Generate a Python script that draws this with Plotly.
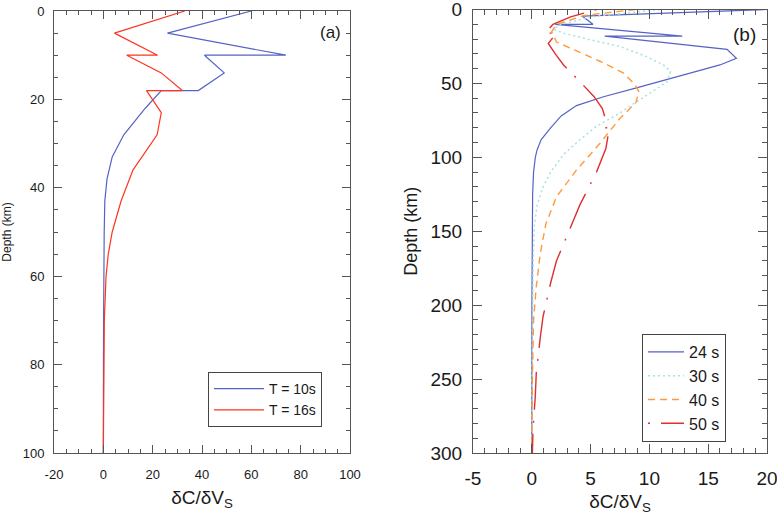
import plotly.graph_objects as go

# ---------------- Panel (a) data ----------------
depth_a_10 = [0, 5, 10, 10, 14, 18, 18, 22, 28, 33, 38, 43, 50, 55, 60, 70, 80, 90, 100]
dcdv_a_10 = [60, 26, 74, 41, 49, 38.5, 23.5, 17, 8.3, 3.6, 1.5, 0.6, 0.35, 0.25, 0.15, 0.1, 0.05, 0.02, 0]

depth_a_16 = [0, 5, 10, 10, 14, 18, 18, 23, 28, 36, 43, 50, 55, 60, 70, 80, 90, 100]
dcdv_a_16 = [33, 4.5, 22, 9.5, 23.5, 32, 17.5, 23.5, 21.8, 12, 7.2, 3.6, 2.0, 1.1, 0.4, 0.2, 0.1, 0]

names_a = ["T = 10s", "T = 16s"]
xticks_a = [-20, 0, 20, 40, 60, 80, 100]
xticklabels_a = ["-20", "0", "20", "40", "60", "80", "100"]
yticks_a = [0, 20, 40, 60, 80, 100]

# ---------------- Panel (b) data ----------------
depth_b_24 = [0, 4.5, 10, 10, 18, 18, 27, 33, 37.5, 42, 47, 53, 59, 65, 72, 80, 88, 95, 100, 110, 125, 150, 200, 250, 300]
dcdv_b_24 = [20, 4.3, 5.2, 2.0, 12.8, 6.2, 16.6, 17.4, 16.0, 14.0, 11.8, 8.9, 6.1, 3.8, 2.5, 1.6, 0.8, 0.45, 0.3, 0.15, 0.07, 0.03, 0.01, 0.0, 0.0]

depth_b_30 = [0, 5, 10.5, 13.4, 16, 20, 25, 32, 37.5, 42, 49, 54.5, 63, 70, 79, 88, 98, 110, 121, 133, 147, 170, 200, 250, 300]
dcdv_b_30 = [10.9, 5.0, 2.3, 1.85, 2.7, 4.7, 7.5, 9.8, 11.2, 11.8, 11.5, 10.4, 8.8, 7.5, 5.5, 4.1, 2.7, 1.6, 0.9, 0.44, 0.21, 0.12, 0.06, 0.02, 0.0]

depth_b_40 = [0, 4, 10, 15, 22, 27.4, 35, 43, 51, 55.6, 63, 73.6, 90.5, 108.6, 126.7, 145, 165, 187.5, 210, 250, 300]
dcdv_b_40 = [8.8, 4.5, 2.1, 1.7, 2.1, 3.6, 5.8, 7.8, 8.8, 9.1, 8.85, 7.5, 5.8, 3.8, 2.1, 1.2, 0.72, 0.38, 0.15, 0.05, 0.0]

depth_b_50 = [0, 5, 10, 16, 16, 23, 30, 37.5, 48, 59, 67, 73.6, 80, 80, 94, 110, 132, 147, 170, 185, 208, 222, 246, 261, 285, 300]
dcdv_b_50 = [5.5, 3.3, 1.8, 1.15, 2.1, 1.4, 2.0, 2.7, 4.0, 5.3, 6.0, 6.25, 6.3, 6.6, 6.3, 5.5, 4.1, 3.3, 2.1, 1.6, 0.95, 0.72, 0.38, 0.3, 0.1, 0.05]

names_b = ["24 s", "30 s", "40 s", "50 s"]
xticks_b = [-5, 0, 5, 10, 15, 20]
xticklabels_b = ["-5", "0", "5", "10", "15", "20"]
yticks_b = [0, 50, 100, 150, 200, 250, 300]

# ---------------- Figure ----------------
FONT = "Liberation Sans, Arial, sans-serif"
fig = go.Figure()

fig.add_trace(go.Scatter(x=dcdv_a_10, y=depth_a_10, mode="lines", name=names_a[0],
                         line=dict(color="#5563c4", width=1.2), xaxis="x", yaxis="y", legend="legend"))
fig.add_trace(go.Scatter(x=dcdv_a_16, y=depth_a_16, mode="lines", name=names_a[1],
                         line=dict(color="#ff3320", width=1.2), xaxis="x", yaxis="y", legend="legend"))

fig.add_trace(go.Scatter(x=dcdv_b_24, y=depth_b_24, mode="lines", name=names_b[0],
                         line=dict(color="#5563c4", width=1.2), xaxis="x2", yaxis="y2", legend="legend2"))
fig.add_trace(go.Scatter(x=dcdv_b_30, y=depth_b_30, mode="lines", name=names_b[1],
                         line=dict(color="#a6e2e2", width=1.5, dash="2px,3px"), xaxis="x2", yaxis="y2", legend="legend2"))
fig.add_trace(go.Scatter(x=dcdv_b_40, y=depth_b_40, mode="lines", name=names_b[2],
                         line=dict(color="#ff9a3c", width=1.4, dash="7px,5px"), xaxis="x2", yaxis="y2", legend="legend2"))
fig.add_trace(go.Scatter(x=dcdv_b_50, y=depth_b_50, mode="lines", name=names_b[3],
                         line=dict(color="#dd3030", width=1.4, dash="2px,11px,38px,11px"), xaxis="x2", yaxis="y2", legend="legend2"))

W, H = 777, 519
def px_x(p):
    return p / W
def px_y(p):
    return (H - p) / H

axis_common = dict(showline=True, mirror="allticks", linecolor="#555555", linewidth=1,
                   ticks="inside", tickcolor="#555555", showgrid=False, zeroline=False,
                   automargin=False, ticklabeloverflow="allow")

fig.update_layout(
    width=W, height=H,
    margin=dict(l=0, r=0, t=0, b=0, pad=0),
    paper_bgcolor="white", plot_bgcolor="white",
    font=dict(family=FONT, color="#1a1a1a"),
    xaxis=dict(domain=[px_x(54), px_x(350)], range=[-20, 100], anchor="y",
               tickvals=xticks_a, ticktext=xticklabels_a, ticklen=8,
               minor=dict(dtick=5, tick0=0, ticks="inside", ticklen=4, tickcolor="#555555"),
               tickfont=dict(size=13), ticklabelstandoff=9,
               title=dict(text="δC/δV<sub>S</sub>", font=dict(size=19), standoff=10),
               **axis_common),
    yaxis=dict(domain=[px_y(453), px_y(11)], range=[100, 0], anchor="x",
               tickvals=yticks_a, ticklen=8,
               minor=dict(dtick=5, tick0=0, ticks="inside", ticklen=4, tickcolor="#555555"),
               tickfont=dict(size=13), ticklabelstandoff=6,
               title=dict(text="Depth (km)", font=dict(size=12), standoff=12),
               **axis_common),
    xaxis2=dict(domain=[px_x(473), px_x(767)], range=[-5, 20], anchor="y2",
                tickvals=xticks_b, ticktext=xticklabels_b, ticklen=9,
                minor=dict(dtick=1, tick0=0, ticks="inside", ticklen=5, tickcolor="#555555"),
                tickfont=dict(size=19), ticklabelstandoff=8,
                title=dict(text="δC/δV<sub>S</sub>", font=dict(size=19), standoff=6),
                **axis_common),
    yaxis2=dict(domain=[px_y(453), px_y(9.5)], range=[300, 0], anchor="x2",
                tickvals=yticks_b, ticklen=9,
                minor=dict(dtick=10, tick0=0, ticks="inside", ticklen=5, tickcolor="#555555"),
                tickfont=dict(size=19), ticklabelstandoff=6,
                title=dict(text="Depth (km)", font=dict(size=18), standoff=8),
                **axis_common),
    legend=dict(x=px_x(208), y=px_y(372), xanchor="left", yanchor="top",
                bordercolor="#444444", borderwidth=1, bgcolor="white",
                font=dict(size=14), tracegroupgap=0, itemwidth=50),
    legend2=dict(x=px_x(642), y=px_y(334), xanchor="left", yanchor="top",
                 bordercolor="#444444", borderwidth=1, bgcolor="white",
                 font=dict(size=16), tracegroupgap=0, itemwidth=36),
    showlegend=True,
)

fig.add_annotation(text="(a)", x=px_x(330), y=px_y(32), xref="paper", yref="paper",
                   xanchor="center", yanchor="middle",
                   showarrow=False, font=dict(size=17, family=FONT))
fig.add_annotation(text="(b)", x=px_x(744), y=px_y(35), xref="paper", yref="paper",
                   xanchor="center", yanchor="middle",
                   showarrow=False, font=dict(size=19, family=FONT))

# remove the default page margin so the figure sits at the window's top-left corner
fig.write_html("out.html", config={"displayModeBar": False},
               post_script="document.body.style.margin='0';")
